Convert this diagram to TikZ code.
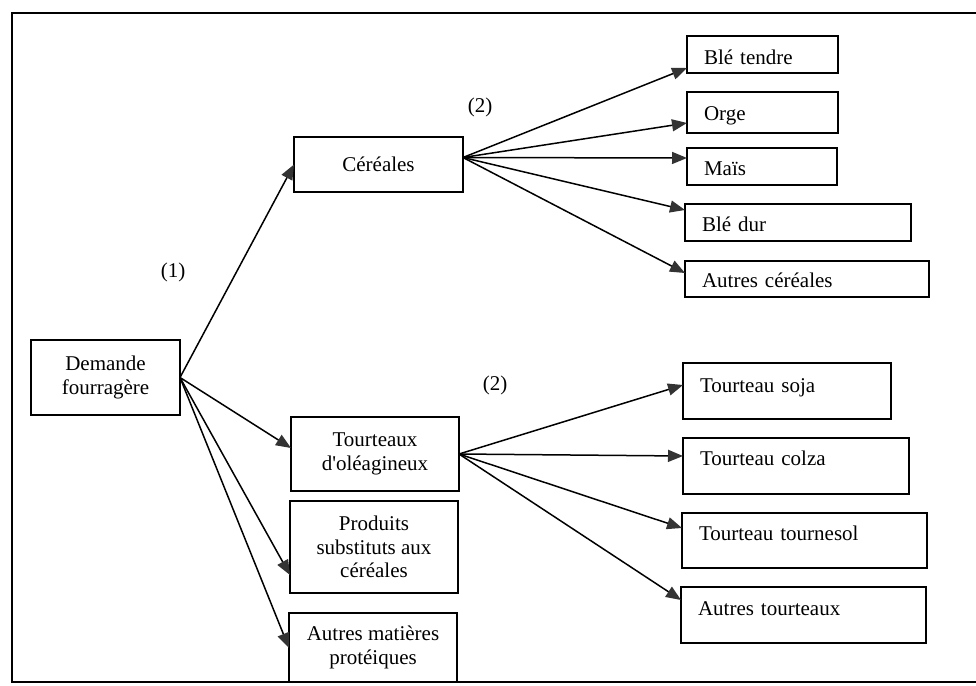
\documentclass[tikz,border=0pt]{standalone}
\usepackage{fontspec}
\setmainfont{Liberation Serif}
\usetikzlibrary{arrows.meta}
\begin{document}
\begin{tikzpicture}[x=1pt,y=-1pt,
  every node/.style={font=\fontsize{21}{23.5}\selectfont},
  box/.style={draw, line width=1.5pt, outer sep=0pt},
  mid/.style={box, align=center, inner sep=0pt},
  leaf/.style={box, anchor=north west, align=left, inner xsep=17pt, inner ysep=0pt},
  arr/.style={draw=black, line width=1.5pt, -{Triangle[length=15pt,width=12pt,fill=black!80,color=black!80]}}
]
\useasboundingbox (0,0) rectangle (976,685);
% outer frame (right side lies beyond the picture)
\draw[line width=2pt] (976,13) -- (12,13) -- (12,682) -- (976,682);

% left and middle boxes
\node[mid, minimum width=149pt, minimum height=75pt] (dem) at (105.5,377.5) {Demande\\fourragère};
\node[mid, minimum width=169pt, minimum height=55pt] (cer) at (378.5,164.5) {Céréales};
\node[mid, minimum width=168pt, minimum height=74pt] (tou) at (375,454) {Tourteaux\\d\textquotesingle oléagineux};
\node[mid, minimum width=168pt, minimum height=92pt] (pro) at (374,547) {Produits\\substituts aux\\céréales};
\node[mid, minimum width=168pt, minimum height=69pt] (aut) at (373,647.5) {Autres matières\\protéiques};

% cereal leaves
\node[leaf, text width=117pt, text height=28pt, text depth=9pt] (bt) at (687,36) {Blé tendre};
\node[leaf, text width=117pt, text height=28pt, text depth=13pt] (org) at (687,92) {Orge};
\node[leaf, text width=116pt, text height=27pt, text depth=10pt] (mai) at (687,148) {Maïs};
\node[leaf, text width=192pt, text height=27pt, text depth=10pt] (bd) at (685,204) {Blé dur};
\node[leaf, text width=210pt, text height=26pt, text depth=10pt] (ac) at (685,261) {Autres céréales};

% oilcake leaves
\node[leaf, text width=174pt, text height=29pt, text depth=27pt] (ts) at (683,363) {Tourteau soja};
\node[leaf, text width=192pt, text height=27pt, text depth=29pt] (tc) at (683,438) {Tourteau colza};
\node[leaf, text width=211pt, text height=27pt, text depth=28pt] (tt) at (682,513) {Tourteau tournesol};
\node[leaf, text width=211pt, text height=28pt, text depth=28pt] (at) at (681,587) {Autres tourteaux};

% labels
\node (l1) at (173,272) {(1)};
\node (l2a) at (480,107) {(2)};
\node (l2b) at (495,385) {(2)};

% connectors from Demande fourragère
\draw[arr] (dem.east) -- (cer.west);
\draw[arr] (dem.east) -- ([yshift=6pt]tou.west);
\draw[arr] (dem.east) -- ([yshift=18pt]pro.south west);
\draw[arr] (dem.east) -- ([yshift=-35pt]aut.north west);

% connectors from Céréales
\draw[arr] ([yshift=7pt]cer.east) -- ([yshift=5pt]bt.south west);
\draw[arr] ([yshift=7pt]cer.east) -- ([yshift=10pt]org.south west);
\draw[arr] ([yshift=7pt]cer.east) -- ([yshift=-10pt]mai.north west);
\draw[arr] ([yshift=7pt]cer.east) -- ([yshift=-6pt]bd.north west);
\draw[arr] ([yshift=7pt]cer.east) -- ([yshift=-12pt]ac.north west);

% connectors from Tourteaux d'oléagineux
\draw[arr] (tou.east) -- ([yshift=-22pt]ts.north west);
\draw[arr] (tou.east) -- ([yshift=-18pt]tc.north west);
\draw[arr] (tou.east) -- ([yshift=-15pt]tt.north west);
\draw[arr] (tou.east) -- ([yshift=-13pt]at.north west);
\end{tikzpicture}
\end{document}
